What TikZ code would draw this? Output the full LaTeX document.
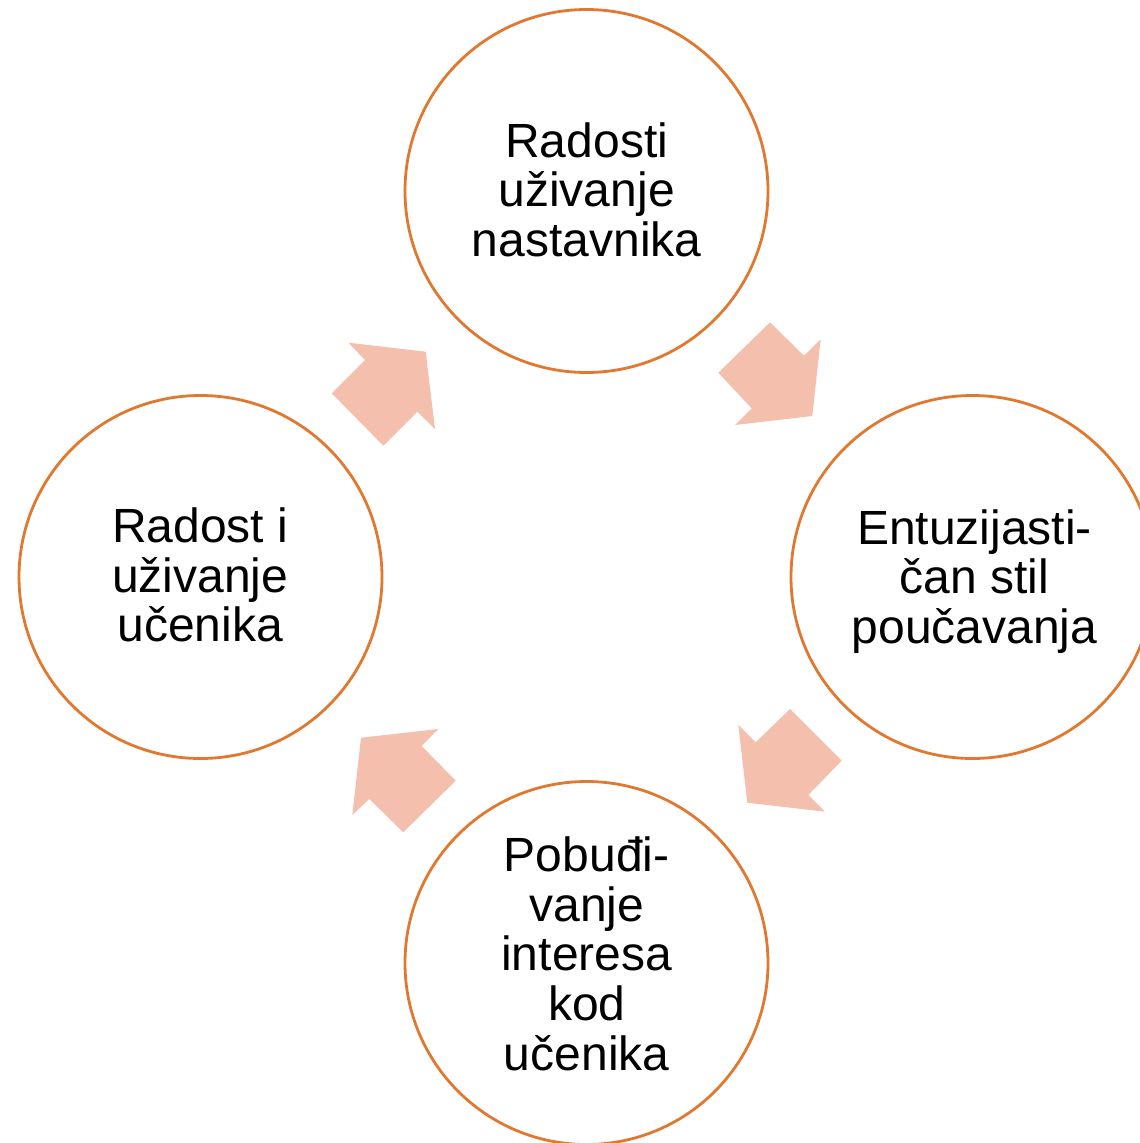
\documentclass[tikz,border=0pt]{standalone}
\usepackage{fontspec}
\setmainfont{Liberation Sans}
\definecolor{ringorange}{HTML}{E0782F}
\definecolor{arrowfill}{HTML}{F4C0AD}
\tikzset{
  stage/.style={circle, draw=ringorange, line width=2.8pt, minimum size=363pt, inner sep=0pt},
  label/.style={align=center, anchor=base, inner sep=0pt,
    font=\fontsize{48pt}{49.6pt}\selectfont},
  blockarrow/.style={fill=arrowfill, draw=none}
}
\begin{document}
\begin{tikzpicture}[x=1pt,y=-1pt]
  \useasboundingbox (0,0) rectangle (1140,1143);
  \clip (0,0) rectangle (1140,1143);

  % the four stages of the cycle
  \node[stage] (top)    at (586.5,191) {};
  \node[stage] (right)  at (972.5,577) {};
  \node[stage] (bottom) at (586.5,963) {};
  \node[stage] (left)   at (200.5,577) {};

  % stage texts (anchored at the baseline of the last line)
  \node[label] (ttop)    at (586.7,256.5) {Radosti\\uživanje\\nastavnika};
  \node[label] (tright)  at (974.5,643.5) {Entuzijasti-\\čan stil\\poučavanja};
  \node[label] (tbottom) at (586.7,1070) {Pobuđi-\\vanje\\interesa\\kod\\učenika};
  \node[label] (tleft)   at (200.3,641.8) {Radost i\\uživanje\\učenika};

  % block arrows running clockwise between the stages
  \fill[blockarrow] (718.3,372.7) -- (770,322.3) -- (804,355.7) -- (820.7,339.3)
    -- (812.3,416) -- (735,425) -- (751.7,408.3) -- cycle;
  \fill[blockarrow] (790,709) -- (841.7,760.7) -- (808.3,795) -- (825,811.7)
    -- (747.3,802.7) -- (738.3,725) -- (755.7,742.3) -- cycle;
  \fill[blockarrow] (455.7,780.7) -- (403.3,832.3) -- (369.3,799) -- (352.3,815)
    -- (361,737.7) -- (438.3,729) -- (421.7,746) -- cycle;
  \fill[blockarrow] (383.3,445.7) -- (331.7,393.3) -- (365,360) -- (348.3,342.7)
    -- (425.7,351.7) -- (435,429) -- (417.3,411.7) -- cycle;
\end{tikzpicture}
\end{document}
